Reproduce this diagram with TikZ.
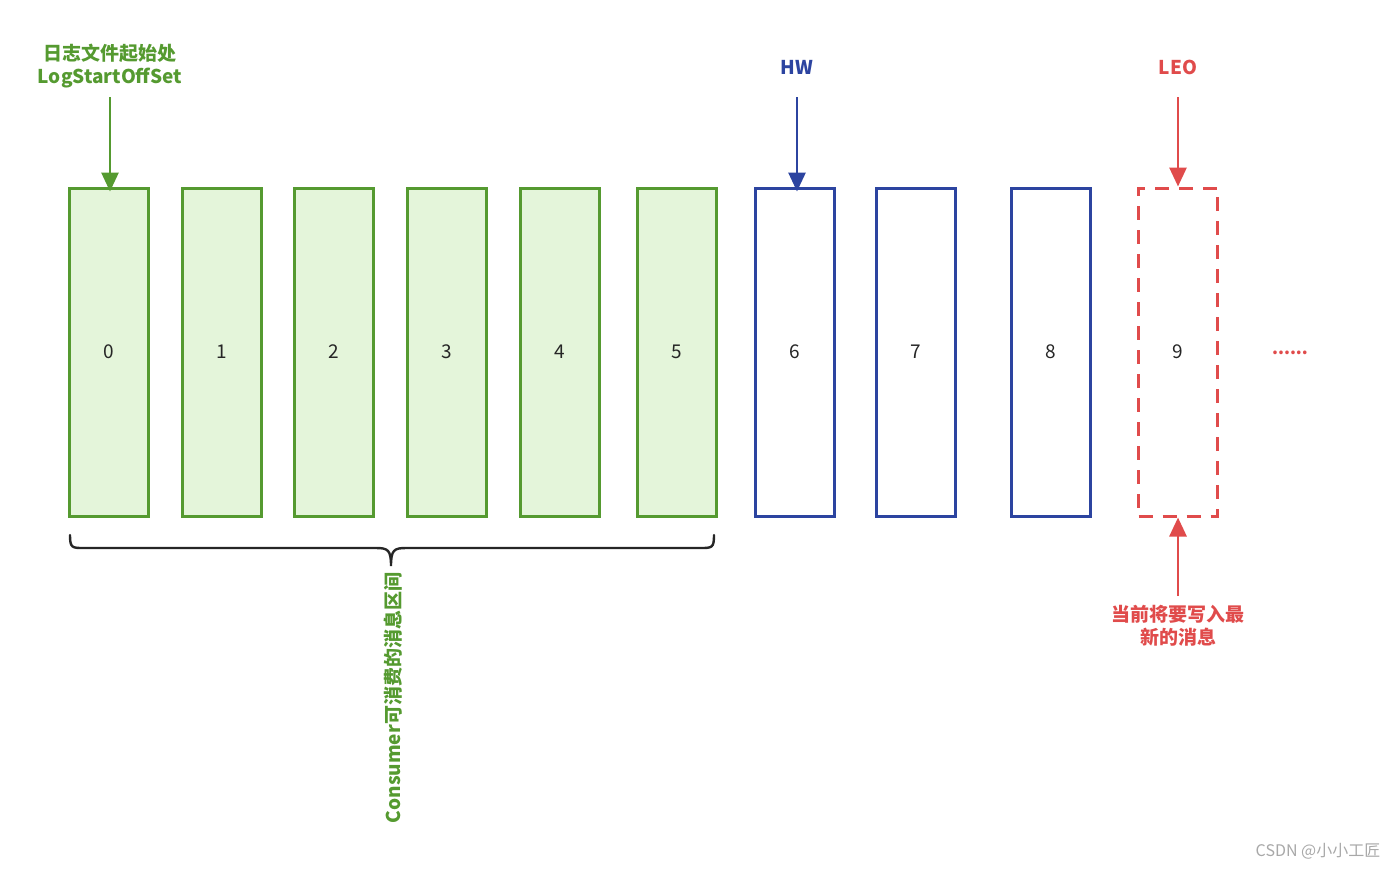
\documentclass[tikz,border=0pt]{standalone}
\usepackage{fontspec}
\newfontfamily\cjk{Noto Sans CJK SC}
\usetikzlibrary{arrows.meta}
\definecolor{gline}{HTML}{559A30}
\definecolor{gfill}{HTML}{E4F5DA}
\definecolor{bline}{HTML}{2C44A0}
\definecolor{rline}{HTML}{E04B4B}
\definecolor{wm}{HTML}{A8A8A8}
\tikzset{
  cell/.style={draw, line width=1.5pt, minimum width=39.5pt, minimum height=164pt, inner sep=0pt,
    font=\cjk\fontsize{9.5}{11}\selectfont, text=black!85},
  gcell/.style={cell, draw=gline, fill=gfill},
  bcell/.style={cell, draw=bline},
  rcell/.style={cell, draw=rline, dash pattern=on 7pt off 5pt},
  lbl/.style={align=center, inner sep=0pt, font=\cjk\bfseries\fontsize{9.5}{11.5}\selectfont},
  arr/.style={line width=1.4pt, -{Triangle[width=8.5pt,length=9.5pt]}},
}
\begin{document}
\begin{tikzpicture}[x=0.5pt,y=-0.5pt]
\useasboundingbox (0,0) rectangle (1400,869);
% cells
\node[gcell] (b0) at (108.5,352) {0};
\node[gcell] (b1) at (221.5,352) {1};
\node[gcell] (b2) at (334,352) {2};
\node[gcell] (b3) at (446.5,352) {3};
\node[gcell] (b4) at (559.5,352) {4};
\node[gcell] (b5) at (677,352) {5};
\node[bcell] (b6) at (794.5,352) {6};
\node[bcell] (b7) at (915.5,352) {7};
\node[bcell] (b8) at (1051,352) {8};
\node[rcell] (b9) at (1178,352) {9};
\node[text=rline, font=\cjk\bfseries\fontsize{8.5}{11}\selectfont] (dots) at (1290,353) {......};
% top labels
\node[lbl, text=gline] (lstart) at (110,66) {日志文件起始处\\LogStartOffSet};
\node[lbl, text=bline] (lhw) at (797,67) {HW};
\node[lbl, text=rline] (lleo) at (1178,67) {LEO};
\coordinate (s0) at (110,97);
\coordinate (s6) at (797,97);
\coordinate (s9) at (1178,97);
\draw[arr, draw=gline, fill=gline, shorten >=-2.5pt] (s0) -- (s0 |- b0.north);
\draw[arr, draw=bline, fill=bline, shorten >=-2.5pt] (s6) -- (s6 |- b6.north);
\draw[arr, draw=rline, fill=rline] (s9) -- (b9.north);
% bottom red
\node[lbl, text=rline] (lnew) at (1178,626) {当前将要写入最\\新的消息};
\coordinate (e9) at (1178,596);
\draw[arr, draw=rline, fill=rline] (e9) -- (b9.south);
% brace
\draw[line width=1.2pt, black!85, line cap=round]
  (70,535) .. controls (70,548) and (72,548) .. (84,548) -- (376,548)
  .. controls (388,548) and (391,550) .. (391,566)
  .. controls (391,550) and (394,548) .. (406,548) -- (700,548)
  .. controls (712,548) and (714,548) .. (714,535);
\node[lbl, text=gline, rotate=90] (lcons) at (393,698) {Consumer可消费的消息区间};
% watermark
\node[inner sep=0pt, text=wm, font=\cjk\fontsize{8}{10}\selectfont] (wmk) at (1318,851) {CSDN @小小工匠};
\end{tikzpicture}
\end{document}
